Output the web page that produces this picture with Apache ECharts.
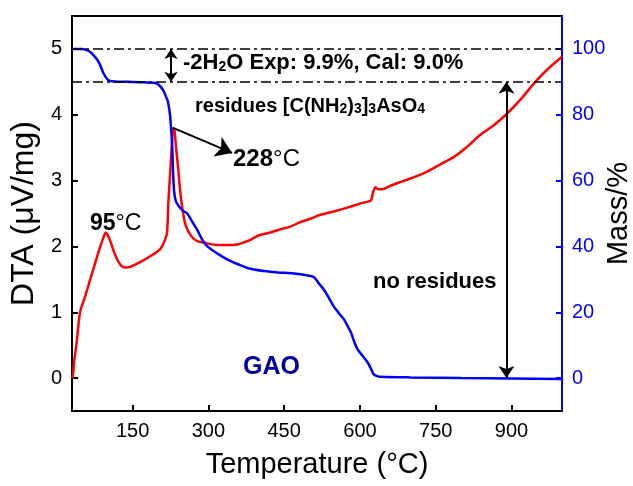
<!DOCTYPE html>
<html>
<head>
<meta charset="utf-8">
<script src="https://cdn.jsdelivr.net/npm/echarts@6/dist/echarts.min.js"></script>
<style>html,body{margin:0;padding:0;background:#fff}#c{width:633px;height:486px}</style>
</head>
<body>
<div id="c"></div>
<script>
// ---- data ----
const xTicks = [150, 300, 450, 600, 750, 900];
const dtaTicks = [0, 1, 2, 3, 4, 5];
const massTicks = [0, 20, 40, 60, 80, 100];

const dtaTemp = [30,32,34,36,40,46,56,66,76,86,92,97,100,105,115,125,135,145,165,191,205,213,218,221,225,228,230,233,236,240,244,248,253,258,268,278,290,318,340,357,370,383,400,417,443,462,482,502,522,548,580,600,615,622,626,631,636,645,660,681,710,734,760,786,810,839,865,889,920,945,970,1000];
const dtaVal  = [0,0.05,0.25,0.35,0.6,1.0,1.24,1.5,1.75,2.0,2.13,2.21,2.18,2.1,1.88,1.73,1.68,1.69,1.76,1.88,1.96,2.08,2.2,2.7,3.2,3.6,3.8,3.75,3.5,3.2,2.85,2.6,2.38,2.26,2.14,2.08,2.06,2.02,2.02,2.03,2.06,2.1,2.17,2.2,2.26,2.3,2.37,2.42,2.48,2.53,2.6,2.65,2.68,2.7,2.82,2.9,2.87,2.87,2.92,2.98,3.06,3.14,3.25,3.36,3.5,3.7,3.84,4.0,4.25,4.48,4.68,4.88];

const massTemp = [30,50,62,70,80,86,92,100,105,115,139,170,191,200,210,216,220,224,226,228,230,232,235,238,248,258,268,278,288,298,318,338,360,383,410,437,470,502,510,520,528,538,548,558,568,575,582,590,595,605,615,622,627,634,641,700,800,900,1000];
const massVal  = [100,100,99.5,98.5,96.7,95,92.7,90.8,90.3,90.1,90,89.9,89.7,89.3,87.6,85.5,83.9,80,76,72,63,57,54,53,51,50,47.5,45,42,40,37.8,36,34.5,33.2,32.5,32.1,31.8,31,30.5,28.5,27,24.5,21.8,19.8,17.9,16,13.9,10.5,8.8,6.8,4.8,2.8,1.2,0.6,0.4,0.2,0,-0.1,-0.3];

// annotation values
const waterLoss = [100, 90];     // mass levels of the dash-dot lines
const waterArrowT = 226;
const residueArrowT = 890;
const peak228 = [230, 3.8];
const peak228Tail = [347, 3.42];

const FONT = 'Arial, "Liberation Sans", sans-serif';
const zip = (a, b) => a.map((v, i) => [v, b[i]]);

const chart = echarts.init(document.getElementById('c'), null, {renderer: 'canvas'});
const option = {
  animation: false,
  backgroundColor: '#fff',
  textStyle: {fontFamily: FONT},
  grid: {left: 72, right: 71, top: 16, bottom: 75, containLabel: false, outerBoundsMode: 'none',
         show: true, borderColor: '#000', borderWidth: 2, backgroundColor: 'transparent'},
  xAxis: {
    type: 'value', min: 30, max: 1000,
    name: 'Temperature (°C)', nameLocation: 'middle', nameGap: 39,
    nameTextStyle: {fontSize: 29, color: '#000', fontFamily: FONT},
    axisLine: {onZero: false, lineStyle: {color: '#000', width: 2}},
    axisTick: {inside: true, length: 6, lineStyle: {color: '#000', width: 2}, customValues: xTicks},
    axisLabel: {fontSize: 20, color: '#000', margin: 10, fontFamily: FONT, customValues: xTicks},
    splitLine: {show: false}
  },
  yAxis: [{
    type: 'value', min: -0.5, max: 5.5, position: 'left',
    name: 'DTA (μV/mg)', nameLocation: 'middle', nameRotate: 90, nameGap: 29,
    nameTextStyle: {fontSize: 32, color: '#000', fontFamily: FONT},
    axisLine: {show: true, onZero: false, lineStyle: {color: '#000', width: 2}},
    axisTick: {inside: true, length: 6, lineStyle: {color: '#000', width: 2}, customValues: dtaTicks},
    axisLabel: {fontSize: 20, color: '#000', margin: 10, fontFamily: FONT, customValues: dtaTicks},
    splitLine: {show: false}
  }, {
    type: 'value', min: -10, max: 110, position: 'right',
    name: 'Mass/%', nameLocation: 'middle', nameRotate: 90, nameGap: 42, nameMoveOverlap: false,
    nameTextStyle: {fontSize: 29, color: '#000', fontFamily: FONT},
    axisLine: {show: true, onZero: false, lineStyle: {color: '#0000ff', width: 2}},
    axisTick: {inside: true, length: 6, lineStyle: {color: '#0000ff', width: 2}, customValues: massTicks},
    axisLabel: {fontSize: 20, color: '#0000ff', margin: 10, fontFamily: FONT, customValues: massTicks},
    splitLine: {show: false}
  }],
  series: [{
    name: 'DTA', type: 'line', yAxisIndex: 0, showSymbol: false, smooth: 0.3,
    data: zip(dtaTemp, dtaVal),
    lineStyle: {color: '#ff0000', width: 2.5}, itemStyle: {color: '#ff0000'},
    markLine: {
      silent: true, symbol: ['none', 'arrow'], symbolSize: 14, label: {show: false},
      lineStyle: {color: '#000', type: 'solid', width: 2},
      data: [[{coord: peak228, symbol: 'none'}, {coord: peak228Tail, symbol: 'arrow', symbolSize: 16}]]
    }
  }, {
    name: 'Mass', type: 'line', yAxisIndex: 1, showSymbol: false, smooth: 0.3,
    data: zip(massTemp, massVal),
    lineStyle: {color: '#0000ff', width: 2.5}, itemStyle: {color: '#0000ff'},
    markLine: {
      silent: true, symbol: ['none', 'none'], label: {show: false},
      lineStyle: {color: '#000', type: [10, 4, 3, 4], width: 1.5},
      data: [
        {yAxis: waterLoss[0]}, {yAxis: waterLoss[1]},
        [{coord: [waterArrowT, waterLoss[0]], symbol: 'arrow', symbolSize: 10, lineStyle: {type: 'solid', width: 2}},
         {coord: [waterArrowT, waterLoss[1]], symbol: 'arrow', symbolSize: 10}],
        [{coord: [residueArrowT, waterLoss[1]], symbol: 'arrow', symbolSize: 12, lineStyle: {type: 'solid', width: 2}},
         {coord: [residueArrowT, 0], symbol: 'arrow', symbolSize: 12}]
      ]
    }
  }],
  graphic: [
    {type: 'text', left: 183, top: 52, style: {
      text: '{b|-2H}{s|2}{b|O Exp: 9.9%, Cal: 9.0%}',
      rich: {
        b: {fontSize: 22, fontWeight: 'bold', fontFamily: FONT, fill: '#000', lineHeight: 26, verticalAlign: 'bottom'},
        s: {fontSize: 14, fontWeight: 'bold', fontFamily: FONT, fill: '#000', lineHeight: 10, verticalAlign: 'bottom'}
      }}},
    {type: 'text', left: 195, top: 96, style: {
      text: '{b|residues [C(NH}{s|2}{b|)}{s|3}{b|]}{s|3}{b|AsO}{s|4}',
      rich: {
        b: {fontSize: 20, fontWeight: 'bold', fontFamily: FONT, fill: '#000', lineHeight: 25, verticalAlign: 'bottom'},
        s: {fontSize: 14, fontWeight: 'bold', fontFamily: FONT, fill: '#000', lineHeight: 8, verticalAlign: 'bottom'}
      }}},
    {type: 'text', left: 233, top: 147, style: {
      text: '{b|228}{n|°C}',
      rich: {
        b: {fontSize: 24, fontWeight: 'bold', fontFamily: FONT, fill: '#000'},
        n: {fontSize: 24, fontFamily: FONT, fill: '#000'}
      }}},
    {type: 'text', left: 90, top: 212, style: {
      text: '{b|95}{n|°C}',
      rich: {
        b: {fontSize: 23, fontWeight: 'bold', fontFamily: FONT, fill: '#000'},
        n: {fontSize: 23, fontFamily: FONT, fill: '#000'}
      }}},
    {type: 'text', left: 373, top: 271, style: {
      text: 'no residues', fontSize: 22, fontWeight: 'bold', fontFamily: FONT, fill: '#000'}},
    {type: 'text', left: 243, top: 355, style: {
      text: 'GAO', fontSize: 25, fontWeight: 'bold', fontFamily: FONT, fill: '#0000a0'}}
  ]
};
chart.setOption(option);
</script>
</body>
</html>
